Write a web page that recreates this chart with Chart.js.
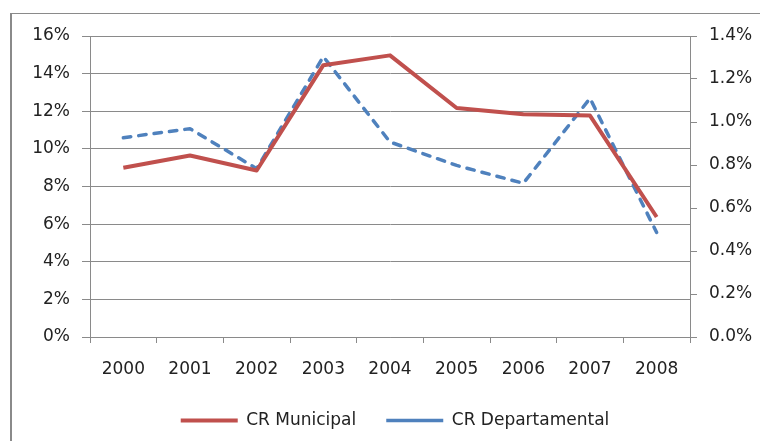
<!DOCTYPE html>
<html>
<head>
<meta charset="utf-8">
<script src="https://cdn.jsdelivr.net/npm/chart.js@4/dist/chart.umd.min.js"></script>
<style>
  html, body { margin: 0; padding: 0; background: #fff; overflow: hidden; }
  #frame { position: absolute; left: 10px; top: 13px; width: 800px; height: 500px;
           border-left: 2px solid #8a8a8a; border-top: 1px solid #8a8a8a; box-sizing: border-box; }
  #wrap { position: absolute; left: 0; top: 0; width: 760px; height: 441px; }
</style>
</head>
<body>
<div id="frame"></div>
<div id="wrap"><canvas id="c" width="760" height="441"></canvas></div>
<script>
const categories = ['2000', '2001', '2002', '2003', '2004', '2005', '2006', '2007', '2008'];
const municipal = [9.0, 9.65, 8.85, 14.45, 14.97, 12.17, 11.84, 11.77, 6.38];
const departamental = [0.927, 0.969, 0.783, 1.304, 0.907, 0.798, 0.715, 1.11, 0.486];
const seriesNames = ['CR Municipal', 'CR Departamental'];
const leftTicks = { min: 0, max: 16, step: 2 };
const rightTicks = { min: 0, max: 1.4, step: 0.2 };

const FONT = { family: 'DejaVu Sans', size: 17 };
const GRID = '#8a8a8a';
const TEXT = '#222';

new Chart(document.getElementById('c'), {
  type: 'line',
  data: {
    labels: categories,
    datasets: [
      {
        label: seriesNames[0], data: municipal, yAxisID: 'y',
        borderColor: '#C0504D', backgroundColor: '#C0504D', borderWidth: 4,
        pointRadius: 0, pointStyle: 'line', tension: 0, borderCapStyle: 'butt', borderJoinStyle: 'round'
      },
      {
        label: seriesNames[1], data: departamental, yAxisID: 'y1',
        borderColor: '#4F81BD', backgroundColor: '#4F81BD', borderWidth: 3.5,
        borderDash: [7.5, 8], borderCapStyle: 'round',
        pointRadius: 0, pointStyle: 'line', tension: 0, borderJoinStyle: 'round'
      }
    ]
  },
  options: {
    responsive: false,
    animation: false,
    layout: { padding: { left: 30, right: 0, top: 36, bottom: 2 } },
    plugins: {
      tooltip: { enabled: false },
      legend: {
        position: 'bottom',
        labels: {
          usePointStyle: true, pointStyle: 'line', pointStyleWidth: 57,
          boxHeight: 4, padding: 30, color: TEXT, font: FONT
        }
      }
    },
    scales: {
      x: {
        offset: true,
        grid: { offset: true, drawOnChartArea: false, drawTicks: true, tickLength: 6, color: GRID },
        border: { color: GRID, width: 1 },
        ticks: { color: TEXT, font: FONT, padding: 16, maxRotation: 0 },
        afterFit: s => { s.height = 45; }
      },
      y: {
        position: 'left', min: leftTicks.min, max: leftTicks.max,
        grid: { color: GRID, tickLength: 8 },
        border: { color: GRID, width: 1 },
        ticks: { stepSize: leftTicks.step, color: TEXT, font: FONT, padding: 12,
                 callback: v => v + '%' },
        afterFit: s => { s.width = 60; }
      },
      y1: {
        position: 'right', min: rightTicks.min, max: rightTicks.max,
        grid: { drawOnChartArea: false, color: GRID, tickLength: 7 },
        border: { color: GRID, width: 1 },
        ticks: { stepSize: rightTicks.step, color: TEXT, font: FONT, padding: 12,
                 callback: v => v.toFixed(1) + '%' },
        afterFit: s => { s.width = 70; }
      }
    }
  }
});
</script>
</body>
</html>
